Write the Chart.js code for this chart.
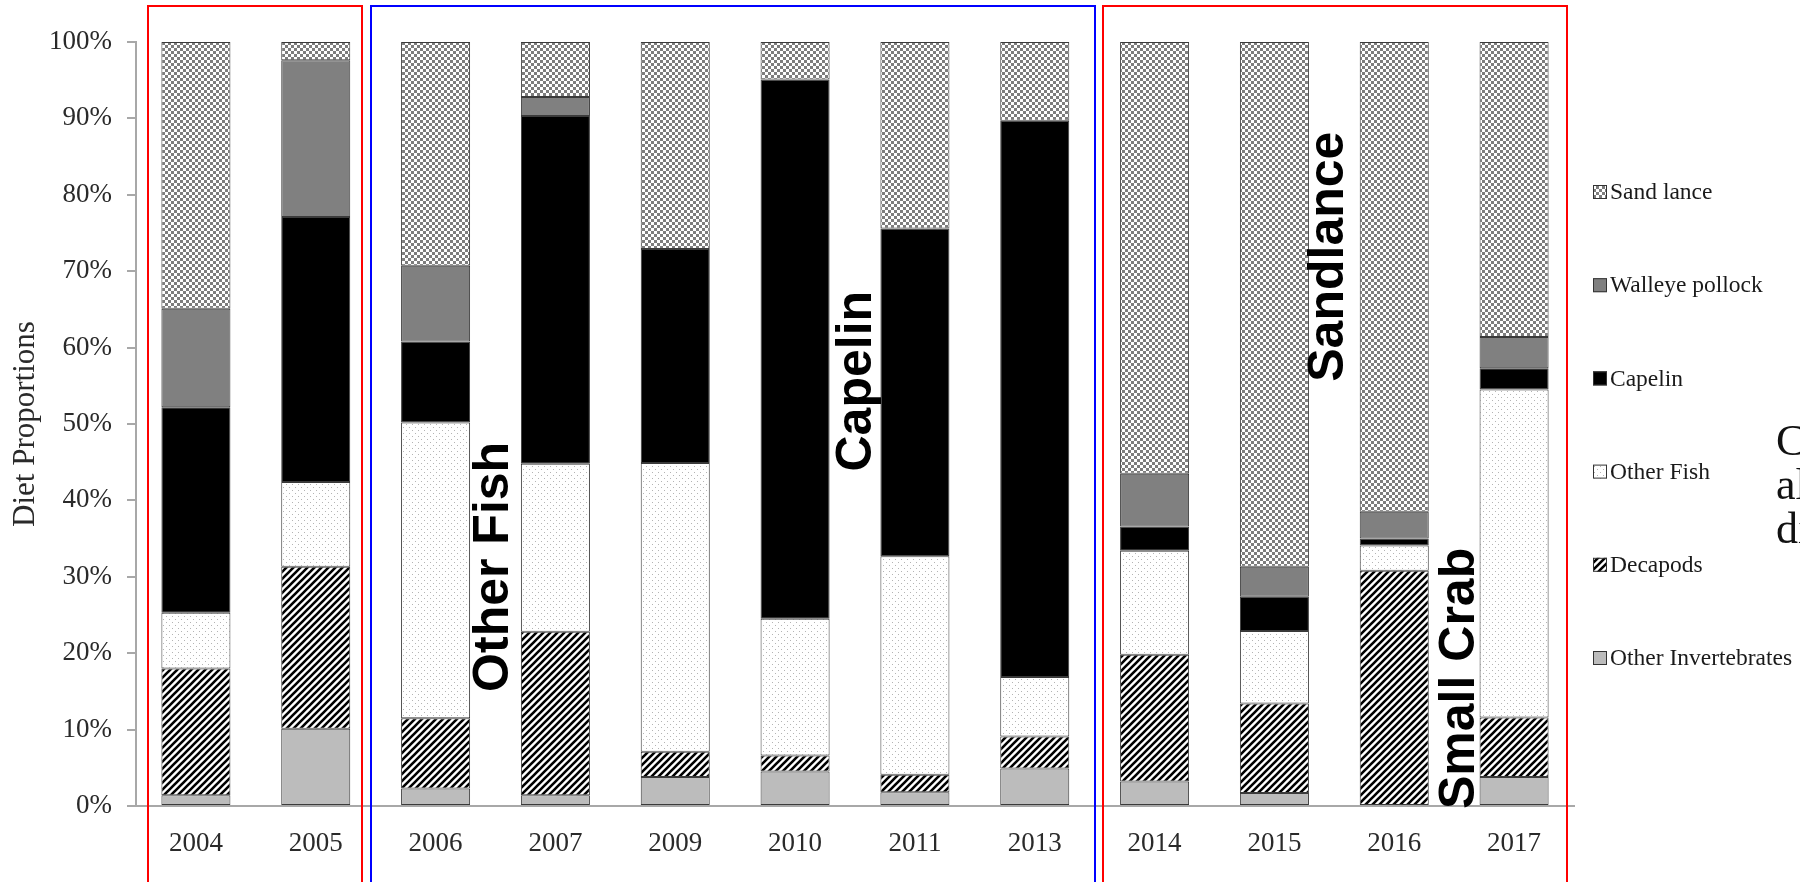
<!DOCTYPE html>
<html>
<head>
<meta charset="utf-8">
<script src="https://cdn.jsdelivr.net/npm/chart.js@4.4.0/dist/chart.umd.min.js"></script>
<style>
    html, body { margin: 0; padding: 0; background: #fff; }
    canvas { display: block; }
</style>
</head>
<body>
<canvas id="dietChart" width="1800" height="882"></canvas>
<script>
// Data (percent of diet)
const years = ['2004', '2005', '2006', '2007', '2009', '2010', '2011', '2013', '2014', '2015', '2016', '2017'];
const otherInvertebrates = [1.4, 10.1, 2.3, 1.4, 3.8, 4.5, 1.8, 4.9, 3.2, 1.7, 0, 3.8];
const decapods = [16.6, 21.2, 9.2, 21.4, 3.3, 2.1, 2.3, 4.2, 16.6, 11.7, 30.8, 7.8];
const otherFish = [7.3, 11.1, 38.7, 22.0, 37.8, 17.9, 28.6, 7.8, 13.6, 9.5, 3.3, 42.9];
const capelin = [26.9, 34.7, 10.6, 45.5, 28.0, 70.6, 42.9, 72.8, 3.2, 4.5, 0.9, 2.8];
const walleyePollock = [12.9, 20.5, 9.9, 2.5, 0, 0, 0, 0, 6.9, 3.9, 3.5, 4.1];
const sandLance = [34.9, 2.4, 29.3, 7.2, 27.1, 4.9, 24.4, 10.3, 56.5, 68.7, 61.5, 38.6];

// Call-out labels: position on the category axis and percent level
const calloutText = ['Other Fish', 'Capelin', 'Sandlance', 'Small Crab'];
const calloutAt = [2.49, 5.52, 9.46, 10.55];
const calloutLevel = [31.3, 55.6, 71.9, 16.7];

// Fill patterns
function makePattern(size, draw) {
    const c = document.createElement('canvas');
    c.width = size;
    c.height = size;
    const g = c.getContext('2d');
    g.fillStyle = '#fff';
    g.fillRect(0, 0, size, size);
    draw(g, size);
    return document.getElementById('dietChart').getContext('2d').createPattern(c, 'repeat');
}

const checkFill = makePattern(6, function(g) {
    g.fillStyle = '#7d7d7d';
    g.fillRect(0, 0, 3, 3);
    g.fillRect(3, 3, 3, 3);
});

const dotFill = makePattern(6, function(g) {
    g.fillStyle = '#b4b4b4';
    g.fillRect(1, 1, 1, 1);
    g.fillRect(4, 4, 1, 1);
});

const stripeFill = makePattern(7, function(g, s) {
    g.strokeStyle = '#000';
    g.lineWidth = 2.6;
    g.beginPath();
    g.moveTo(-1, s + 1); g.lineTo(s + 1, -1);
    g.moveTo(-2, 2); g.lineTo(2, -2);
    g.moveTo(s - 2, s + 2); g.lineTo(s + 2, s - 2);
    g.stroke();
});

const serif = 'Liberation Serif, "Times New Roman", serif';

const overlayPlugin = {
    id: 'overlay',
    afterDatasetsDraw(chart) {
        const ctx = chart.ctx;
        const x = chart.scales.x;
        const y = chart.scales.y;
        ctx.save();
        ctx.fillStyle = '#000';
        ctx.font = 'bold 50px "Liberation Sans", Arial, sans-serif';
        ctx.textAlign = 'center';
        ctx.textBaseline = 'middle';
        calloutText.forEach(function(t, i) {
            ctx.save();
            ctx.translate(x.getPixelForValue(calloutAt[i]), y.getPixelForValue(calloutLevel[i]));
            ctx.rotate(-Math.PI / 2);
            ctx.fillText(t, 0, 0);
            ctx.restore();
        });
        ctx.restore();
    },
    afterDraw(chart) {
        const ctx = chart.ctx;
        ctx.save();

        // legend, top entry = top of stack
        const sets = chart.data.datasets.slice().reverse();
        ctx.font = '23.5px ' + serif;
        ctx.textAlign = 'left';
        ctx.textBaseline = 'middle';
        sets.forEach(function(ds, k) {
            const cy = 192 + k * 93.2;
            ctx.fillStyle = ds.backgroundColor;
            ctx.fillRect(1593, cy - 7, 14, 14);
            ctx.strokeStyle = '#333';
            ctx.lineWidth = 1;
            ctx.strokeRect(1593.5, cy - 6.5, 13, 13);
            ctx.fillStyle = '#1a1a1a';
            ctx.fillText(ds.label, 1610, cy + 1);
        });

        // group boxes
        ctx.lineWidth = 2;
        ctx.strokeStyle = '#ff0000';
        ctx.strokeRect(148, 6, 214, 900);
        ctx.strokeRect(1103, 6, 464, 900);
        ctx.strokeStyle = '#0000ff';
        ctx.strokeRect(371, 6, 724, 900);

        // text cut off at the right edge
        ctx.fillStyle = '#111';
        ctx.font = '44px ' + serif;
        ctx.textBaseline = 'alphabetic';
        ctx.fillText('C', 1776, 455);
        ctx.fillText('al', 1776, 499);
        ctx.fillText('di', 1776, 543);

        ctx.restore();
    }
};

new Chart(document.getElementById('dietChart'), {
    type: 'bar',
    data: {
        labels: years,
        datasets: [
            { label: 'Other Invertebrates', data: otherInvertebrates, backgroundColor: '#bcbcbc' },
            { label: 'Decapods', data: decapods, backgroundColor: stripeFill },
            { label: 'Other Fish', data: otherFish, backgroundColor: dotFill },
            { label: 'Capelin', data: capelin, backgroundColor: '#000000' },
            { label: 'Walleye pollock', data: walleyePollock, backgroundColor: '#808080' },
            { label: 'Sand lance', data: sandLance, backgroundColor: checkFill }
        ]
    },
    options: {
        responsive: false,
        animation: false,
        layout: { padding: { top: 42, right: 226, bottom: 0, left: 0 } },
        datasets: {
            bar: {
                barPercentage: 0.576,
                categoryPercentage: 1,
                borderWidth: 1,
                borderColor: '#3a3a3a',
                borderSkipped: false
            }
        },
        plugins: {
            legend: { display: false },
            tooltip: { enabled: false }
        },
        scales: {
            x: {
                stacked: true,
                grid: { display: false, drawTicks: false },
                border: { display: true, color: '#a8a8a8', width: 2 },
                ticks: {
                    padding: 22,
                    color: '#2a2a2a',
                    font: { family: serif, size: 27 }
                },
                afterFit(scale) { scale.height = 76; }
            },
            y: {
                stacked: true,
                min: 0,
                max: 100,
                grid: {
                    drawOnChartArea: false,
                    drawTicks: true,
                    tickLength: 9,
                    color: '#a8a8a8',
                    lineWidth: 2
                },
                border: { display: true, color: '#a8a8a8', width: 2 },
                ticks: {
                    stepSize: 10,
                    padding: 15,
                    color: '#2a2a2a',
                    font: { family: serif, size: 27 },
                    callback: function(v) { return v + '%'; }
                },
                title: {
                    display: true,
                    text: 'Diet Proportions',
                    color: '#2a2a2a',
                    font: { family: serif, size: 31 },
                    padding: { top: 7, bottom: 0 }
                },
                afterFit(scale) { scale.width = 136; }
            }
        }
    },
    plugins: [overlayPlugin]
});
</script>
</body>
</html>
